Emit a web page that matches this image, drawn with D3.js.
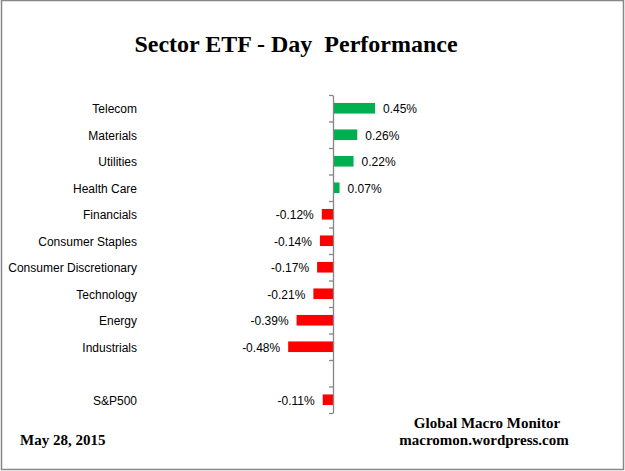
<!DOCTYPE html>
<html>
<head>
<meta charset="utf-8">
<script src="https://cdn.jsdelivr.net/npm/d3@7"></script>
<style>
  html, body { margin: 0; padding: 0; background: #fff; }
  svg { display: block; }
</style>
</head>
<body>
<div id="chart"></div>
<script>
// data (% change on the day)
const categories = [
  "Telecom", "Materials", "Utilities", "Health Care", "Financials",
  "Consumer Staples", "Consumer Discretionary", "Technology", "Energy",
  "Industrials", "", "S&P500"
];
const values = [0.45, 0.26, 0.22, 0.07, -0.12, -0.14, -0.17, -0.21, -0.39, -0.48, null, -0.11];
const valueLabels = ["0.45%", "0.26%", "0.22%", "0.07%", "-0.12%", "-0.14%", "-0.17%", "-0.21%", "-0.39%", "-0.48%", "", "-0.11%"];

const W = 625, H = 471;
const AXIS_X = 333;
const PLOT_TOP = 95, PLOT_BOTTOM = 413;
const POS = "#00b050", NEG = "#ff0000";

const svg = d3.select("#chart").append("svg")
  .attr("width", W)
  .attr("height", H);

// outer frame
svg.append("rect")
  .attr("x", 1.5).attr("y", 0.5)
  .attr("width", 622).attr("height", 469)
  .attr("fill", "#fff")
  .attr("stroke", "#878787")
  .attr("stroke-width", 1.5);

// title
svg.append("text")
  .attr("x", 296).attr("y", 52)
  .attr("text-anchor", "middle")
  .style("white-space", "pre")
  .attr("font-family", "'Liberation Serif', 'Times New Roman', serif")
  .attr("font-weight", "bold")
  .attr("font-size", 24)
  .text("Sector ETF - Day  Performance");

// scales
const x = d3.scaleLinear()
  .domain([-0.5, 0.5])
  .range([AXIS_X - 46.7, AXIS_X + 46.7]);

const y = d3.scaleBand()
  .domain(d3.range(categories.length))
  .range([PLOT_TOP, PLOT_BOTTOM])
  .paddingInner(0.6)
  .paddingOuter(0.3);

// boundaries between categories, used for the axis ticks
const yEdge = d3.scaleLinear()
  .domain([0, categories.length])
  .range([PLOT_TOP, PLOT_BOTTOM]);

// bars
svg.append("g")
  .selectAll("rect")
  .data(values.map((v, i) => ({ v, i })).filter(d => d.v !== null))
  .join("rect")
  .attr("x", d => x(Math.min(0, d.v)))
  .attr("y", d => y(d.i))
  .attr("width", d => Math.abs(x(d.v) - x(0)))
  .attr("height", y.bandwidth())
  .attr("fill", d => d.v >= 0 ? POS : NEG);

// category axis through zero
svg.append("g")
  .attr("transform", `translate(${x(0)},0)`)
  .call(d3.axisLeft(yEdge)
    .tickValues(d3.range(categories.length + 1))
    .tickSize(4)
    .tickSizeOuter(0)
    .tickFormat(""))
  .call(g => g.selectAll("path, line").attr("stroke", "#868686").attr("stroke-width", 1.3));

// category labels, right aligned at the left of the plot
svg.append("g")
  .selectAll("text")
  .data(categories)
  .join("text")
  .attr("x", 137)
  .attr("y", (d, i) => y(i) + y.bandwidth() / 2 + 1)
  .attr("dy", "0.35em")
  .attr("text-anchor", "end")
  .attr("font-family", "'Liberation Sans', Arial, sans-serif")
  .attr("font-size", 12)
  .attr("fill", "#000")
  .text(d => d);

// value labels next to the bar ends
svg.append("g")
  .selectAll("text")
  .data(values.map((v, i) => ({ v, i })).filter(d => d.v !== null))
  .join("text")
  .attr("x", d => d.v >= 0 ? x(d.v) + 8 : x(d.v) - 8)
  .attr("y", d => y(d.i) + y.bandwidth() / 2 + 1)
  .attr("dy", "0.35em")
  .attr("text-anchor", d => d.v >= 0 ? "start" : "end")
  .attr("font-family", "'Liberation Sans', Arial, sans-serif")
  .attr("font-size", 12)
  .attr("fill", "#000")
  .text(d => valueLabels[d.i]);

// footer
const serif = "'Liberation Serif', 'Times New Roman', serif";
svg.append("text")
  .attr("x", 20).attr("y", 445)
  .attr("font-family", serif).attr("font-weight", "bold").attr("font-size", 15)
  .text("May 28, 2015");
svg.append("text")
  .attr("x", 487).attr("y", 428)
  .attr("text-anchor", "middle")
  .attr("font-family", serif).attr("font-weight", "bold").attr("font-size", 15)
  .text("Global Macro Monitor");
svg.append("text")
  .attr("x", 484).attr("y", 445)
  .attr("text-anchor", "middle")
  .attr("font-family", serif).attr("font-weight", "bold").attr("font-size", 15)
  .text("macromon.wordpress.com");
</script>
</body>
</html>
